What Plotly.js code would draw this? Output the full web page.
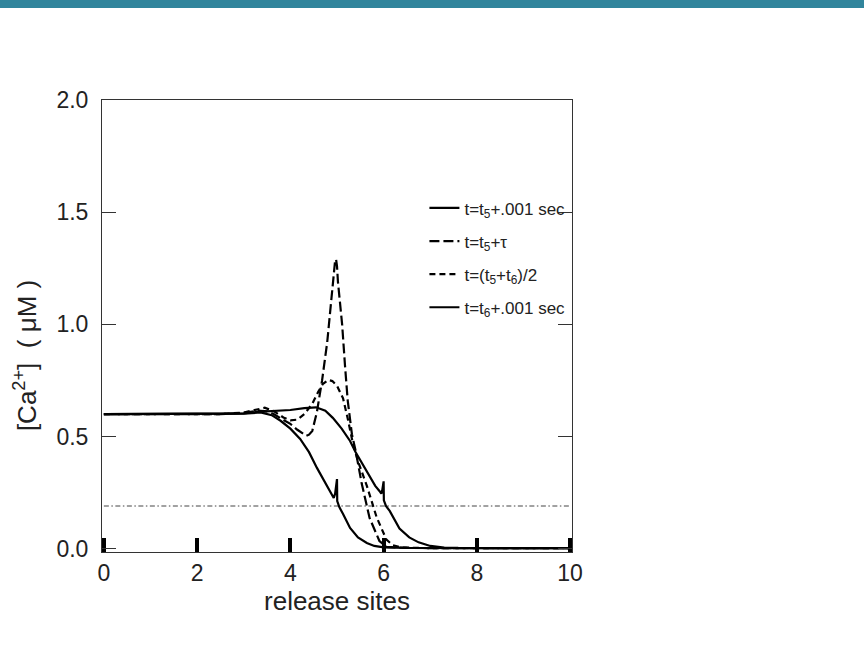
<!DOCTYPE html>
<html>
<head>
<meta charset="utf-8">
<script src="https://cdn.plot.ly/plotly-3.0.1.min.js"></script>
<style>
  html, body { margin: 0; padding: 0; background: #fff; }
  #bar { position: absolute; left: 0; top: 0; width: 864px; height: 8px; background: #31859c; z-index: 5; }
  #chart { width: 864px; height: 646px; }
</style>
</head>
<body>
<div id="bar"></div>
<div id="chart"></div>
<script>
// ---- data ----
const seriesNames = [
  "t=t<sub>5</sub>+.001 sec",
  "t=t<sub>5</sub>+τ",
  "t=(t<sub>5</sub>+t<sub>6</sub>)/2",
  "t=t<sub>6</sub>+.001 sec"
];

const x1 = [0, 1, 2, 2.5, 3.0, 3.36, 3.6, 3.79, 4.0, 4.21, 4.4, 4.57, 4.75, 4.93, 4.96, 4.985, 5.0, 5.005, 5.05, 5.13, 5.28, 5.45, 5.64, 5.8, 6.0, 6.5, 7, 8, 9, 10];
const y1 = [0.6, 0.6, 0.6, 0.6, 0.602, 0.607, 0.595, 0.57, 0.535, 0.489, 0.43, 0.36, 0.29, 0.226, 0.245, 0.28, 0.31, 0.212, 0.185, 0.154, 0.092, 0.05, 0.025, 0.012, 0.006, 0.003, 0.002, 0.002, 0.002, 0.002];

const x2 = [0, 1, 2, 2.5, 3.0, 3.3, 3.5, 3.64, 3.8, 4.0, 4.15, 4.28, 4.34, 4.4, 4.47, 4.57, 4.68, 4.79, 4.87, 4.92, 4.96, 4.98, 5.0, 5.02, 5.11, 5.17, 5.23, 5.32, 5.40, 5.53, 5.70, 5.91, 6.06, 6.5, 7, 8, 9, 10];
const y2 = [0.6, 0.6, 0.6, 0.6, 0.605, 0.615, 0.612, 0.6, 0.58, 0.556, 0.53, 0.51, 0.503, 0.508, 0.525, 0.61, 0.75, 0.92, 1.1, 1.22, 1.285, 1.29, 1.26, 1.19, 1.0, 0.82, 0.66, 0.51, 0.436, 0.29, 0.136, 0.034, 0.008, 0.003, 0.002, 0.002, 0.002, 0.002];

const x3 = [0, 1, 2, 2.5, 3.0, 3.25, 3.45, 3.65, 3.85, 4.0, 4.15, 4.3, 4.47, 4.6, 4.7, 4.81, 4.9, 5.0, 5.13, 5.23, 5.34, 5.45, 5.64, 5.85, 6.06, 6.2, 6.4, 7, 8, 9, 10];
const y3 = [0.6, 0.6, 0.6, 0.6, 0.607, 0.62, 0.628, 0.612, 0.585, 0.572, 0.575, 0.6, 0.646, 0.7, 0.735, 0.752, 0.747, 0.726, 0.67, 0.58, 0.47, 0.39, 0.28, 0.14, 0.04, 0.015, 0.005, 0.002, 0.002, 0.002, 0.002];

const x4 = [0, 1, 2, 2.5, 3.0, 3.3, 3.64, 4.0, 4.3, 4.55, 4.75, 4.91, 5.1, 5.28, 5.4, 5.55, 5.7, 5.82, 5.91, 5.95, 5.97, 5.985, 6.0, 6.005, 6.05, 6.13, 6.34, 6.55, 6.75, 7.0, 7.3, 7.6, 8, 9, 10];
const y4 = [0.6, 0.6, 0.6, 0.6, 0.603, 0.61, 0.614, 0.618, 0.626, 0.63, 0.615, 0.583, 0.535, 0.48, 0.43, 0.378, 0.325, 0.28, 0.257, 0.245, 0.26, 0.28, 0.30, 0.215, 0.19, 0.168, 0.09, 0.05, 0.028, 0.012, 0.005, 0.003, 0.002, 0.002, 0.002];

const thresholdX = [0, 10];
const thresholdY = [0.19, 0.19];

const xTickVals = [0, 2, 4, 6, 8, 10];
const yTickVals = [0, 0.5, 1.0, 1.5, 2.0];

const xTitle = "release sites";
const yTitle = "[Ca<sup>2+</sup>]\u00a0\u00a0(\u00a0μM\u00a0)";

// ---- chart ----
const font = "Liberation Sans, Arial, Helvetica, sans-serif";
const traces = [
  {x: thresholdX, y: thresholdY, mode: "lines", showlegend: false, hoverinfo: "skip",
   line: {color: "#444", width: 1, dash: "5px,2.5px,1.5px,2.5px"}},
  {x: x1, y: y1, name: seriesNames[0], mode: "lines", legendgroup: "a",
   line: {color: "#000", width: 2.2, dash: "solid"}},
  {x: x2, y: y2, name: seriesNames[1], mode: "lines", legendgroup: "b",
   line: {color: "#000", width: 2.2, dash: "10px,4px"}},
  {x: x3, y: y3, name: seriesNames[2], mode: "lines", legendgroup: "c",
   line: {color: "#000", width: 2.2, dash: "6px,4px"}},
  {x: x4, y: y4, name: seriesNames[3], mode: "lines", legendgroup: "d",
   line: {color: "#000", width: 2.2, dash: "solid"}}
];

const layout = {
  width: 864, height: 646,
  margin: {l: 102, r: 292, t: 100, b: 94, pad: 0},
  paper_bgcolor: "#fff", plot_bgcolor: "#fff",
  font: {family: font, color: "#222", size: 23},
  showlegend: true,
  legend: {
    x: 0.686, y: 0.80, xanchor: "left", yanchor: "top",
    bgcolor: "rgba(0,0,0,0)", borderwidth: 0,
    font: {family: font, size: 17, color: "#222"},
    traceorder: "grouped", tracegroupgap: 8
  },
  xaxis: {
    range: [-0.04, 10.04], tickvals: xTickVals, ticktext: xTickVals.map(String),
    ticks: "inside", ticklen: 14, tickwidth: 4, tickcolor: "#000",
    showline: true, linecolor: "#333", linewidth: 1, mirror: true,
    showgrid: false, zeroline: false,
    tickfont: {family: font, size: 23, color: "#222"},
    title: {text: xTitle, font: {family: font, size: 26, color: "#222"}, standoff: 1}
  },
  yaxis: {
    range: [-0.015, 2.0], tickvals: yTickVals, tickformat: ".1f",
    ticks: "inside", ticklen: 14, tickwidth: 1, tickcolor: "#333",
    showline: true, linecolor: "#333", linewidth: 1, mirror: "ticks",
    showgrid: false, zeroline: false, ticklabelstandoff: 8,
    tickfont: {family: font, size: 23, color: "#222"}
  },
  annotations: [
    {text: yTitle, xref: "paper", yref: "y", x: -0.163, y: 0.86,
     textangle: -90, showarrow: false, xanchor: "center", yanchor: "middle",
     font: {family: font, size: 26, color: "#222"}}
  ]
};

Plotly.newPlot("chart", traces, layout, {displayModeBar: false, staticPlot: true});
</script>
</body>
</html>
